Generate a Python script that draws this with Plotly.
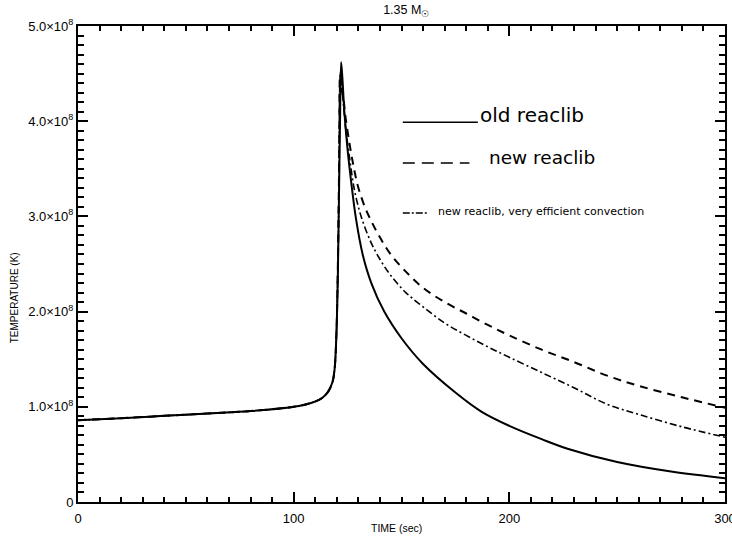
import numpy as np
import plotly.graph_objects as go

# ---- data (temperature in units of 1e8 K) ----
t_old = [0, 20, 40, 60, 80, 100, 108, 113, 116, 118, 119, 119.8, 120.5, 121, 121.5, 122,
         122.6, 123.5, 125, 127, 129, 132, 136, 142, 150, 160, 175, 187, 200, 215, 227,
         250, 275, 300]
T_old = [0.86, 0.88, 0.905, 0.93, 0.955, 1.0, 1.04, 1.09, 1.16, 1.26, 1.4, 1.75, 2.4, 3.2,
         4.0, 4.62, 4.45, 4.1, 3.7, 3.3, 2.96, 2.6, 2.3, 2.0, 1.72, 1.45, 1.15, 0.95,
         0.80, 0.66, 0.56, 0.42, 0.32, 0.25]

t_new = [0, 20, 40, 60, 80, 100, 108, 113, 116, 118, 119, 119.8, 120.5, 121, 121.5, 122,
         123, 124, 126, 128, 130, 133, 136, 140, 145, 152, 160, 170, 180, 190, 200, 215,
         230, 245, 260, 280, 300]
T_new = [0.86, 0.88, 0.905, 0.93, 0.955, 1.0, 1.04, 1.09, 1.16, 1.26, 1.4, 1.75, 2.5, 3.4,
         4.5, 4.35, 4.25, 4.05, 3.75, 3.5, 3.3, 3.1, 2.95, 2.78, 2.6, 2.42, 2.25, 2.1,
         1.98, 1.86, 1.75, 1.6, 1.47, 1.33, 1.22, 1.1, 0.99]

t_conv = [0, 20, 40, 60, 80, 100, 108, 113, 116, 118, 119, 119.8, 120.5, 121, 121.7, 123,
          124, 126, 128, 130, 132, 136, 140, 145, 152, 160, 170, 180, 190, 200, 215, 230,
          245, 260, 280, 300]
T_conv = [0.86, 0.88, 0.905, 0.93, 0.955, 1.0, 1.04, 1.09, 1.16, 1.26, 1.4, 1.75, 2.45,
          3.3, 4.45, 4.2, 3.95, 3.6, 3.3, 3.1, 2.95, 2.72, 2.55, 2.38, 2.2, 2.05, 1.88,
          1.75, 1.63, 1.52, 1.36, 1.2, 1.03, 0.92, 0.79, 0.68]

y_tickvals = [0, 1e8, 2e8, 3e8, 4e8, 5e8]
y_ticktext = ["0", "1.0×10<sup>8</sup>", "2.0×10<sup>8</sup>", "3.0×10<sup>8</sup>",
              "4.0×10<sup>8</sup>", "5.0×10<sup>8</sup>"]

legend_labels = ["old reaclib", "new reaclib", "new reaclib, very efficient convection"]

FONT = "Liberation Sans, Arial, sans-serif"
LFONT = "DejaVu Sans, sans-serif"

fig = go.Figure()
fig.add_trace(go.Scatter(x=t_old, y=np.array(T_old) * 1e8, mode="lines",
                         line=dict(color="black", width=2, dash="solid"),
                         line_shape="spline", name=legend_labels[0]))
fig.add_trace(go.Scatter(x=t_new, y=np.array(T_new) * 1e8, mode="lines",
                         line=dict(color="black", width=2, dash="8px,6px"),
                         line_shape="spline", name=legend_labels[1]))
fig.add_trace(go.Scatter(x=t_conv, y=np.array(T_conv) * 1e8, mode="lines",
                         line=dict(color="black", width=1.6, dash="7px,3px,2px,3px"),
                         line_shape="spline", name=legend_labels[2]))

axis_common = dict(
    showgrid=False, zeroline=False, showline=True, linecolor="black", linewidth=2,
    mirror="ticks", ticks="inside", ticklen=10, tickwidth=2, tickcolor="black",
    tickfont=dict(family=FONT, size=13, color="black"), automargin=False,
    ticklabeloverflow="allow", layer="above traces",
)

fig.update_xaxes(range=[0, 300], tickmode="linear", tick0=0, dtick=100, ticklabelstandoff=3,
                 minor=dict(dtick=10, ticklen=5, tickcolor="black", ticks="inside", tickwidth=1.5),
                 **axis_common)
fig.update_yaxes(range=[0, 5e8], tickmode="array", tickvals=y_tickvals, ticktext=y_ticktext,
                 minor=dict(dtick=1e7, ticklen=6, tickcolor="black", ticks="inside", tickwidth=1.5),
                 **axis_common)

# axis titles
fig.add_annotation(xref="paper", yref="paper", x=0.493, y=-0.054, text="TIME (sec)",
                   showarrow=False, xanchor="center", yanchor="middle",
                   font=dict(family=FONT, size=10.5, color="black"))
fig.add_annotation(xref="paper", yref="paper", x=-0.099, y=0.43, text="TEMPERATURE (K)",
                   showarrow=False, xanchor="center", yanchor="middle", textangle=-90,
                   font=dict(family=FONT, size=10, color="black"))

# legend drawn as lines + text (as in the original)
leg = [
    dict(y=0.798, x0=0.502, x1=0.618, dash="solid", w=1.5, tx=0.619, size=20, label=legend_labels[0]),
    dict(y=0.712, x0=0.502, x1=0.605, dash="12px,7px", w=1.5, tx=0.632, size=18.5, label=legend_labels[1]),
    dict(y=0.607, x0=0.502, x1=0.541, dash="7px,2px,2px,2px", w=1.5, tx=0.553, size=11, label=legend_labels[2]),
]
for d in leg:
    fig.add_shape(type="line", xref="paper", yref="paper", x0=d["x0"], x1=d["x1"],
                  y0=d["y"], y1=d["y"], line=dict(color="black", width=d["w"], dash=d["dash"]))
    fig.add_annotation(xref="paper", yref="paper", x=d["tx"], y=d["y"], text=d["label"],
                       showarrow=False, xanchor="left", yanchor="bottom", yshift=-7,
                       font=dict(family=LFONT, size=d["size"], color="black"))

fig.update_layout(
    width=732, height=537, autosize=False,
    margin=dict(l=78, r=7, t=26, b=35),
    paper_bgcolor="white", plot_bgcolor="white",
    showlegend=False,
    title=dict(text="1.35 M<sub>☉</sub>", x=0.555, xanchor="center", y=0.982, yanchor="middle",
               font=dict(family=FONT, size=12.5, color="black")),
)

fig.write_html("out.html", config={"responsive": False, "displayModeBar": False},
               post_script="document.body.style.margin='0';document.body.style.overflow='hidden';")
